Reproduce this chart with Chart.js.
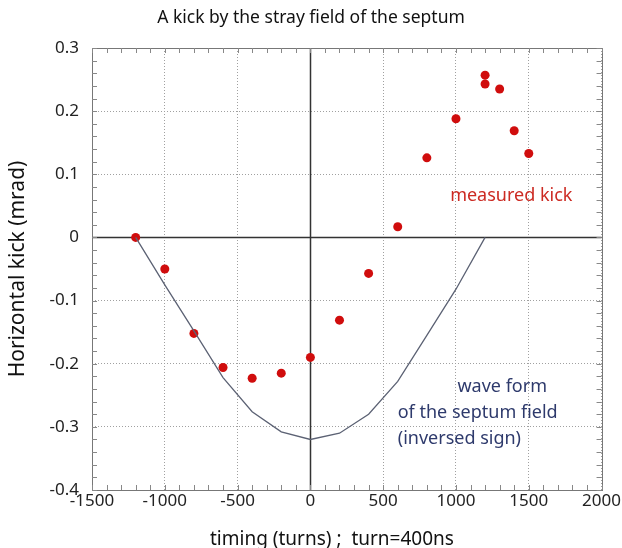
<!DOCTYPE html>
<html>
<head>
<meta charset="utf-8">
<script src="https://cdn.jsdelivr.net/npm/chart.js@4"></script>
<style>
html, body { margin: 0; padding: 0; background: #fff; }
</style>
</head>
<body>
<canvas id="myChart" width="622" height="548"></canvas>
<script>
// measured kick (red dots)
var kickTurns  = [-1200, -1000, -800, -600, -400, -200, 0, 200, 400, 600, 800, 1000, 1200, 1200, 1300, 1400, 1500];
var kickValues = [0, -0.05, -0.152, -0.206, -0.223, -0.215, -0.19, -0.131, -0.057, 0.017, 0.126, 0.188, 0.257, 0.243, 0.235, 0.169, 0.133];

// wave form of the septum field (inversed sign)
var waveTurns  = [-1200, -1000, -800, -600, -400, -200, 0, 200, 400, 600, 800, 1000, 1200];
var waveValues = [0, -0.075, -0.148, -0.222, -0.276, -0.308, -0.32, -0.31, -0.28, -0.228, -0.155, -0.082, 0];

var chartTitle = 'A kick by the stray field of the septum';
// trailing spaces nudge the centred axis title a bit to the left, like the original
var xTitle = 'timing (turns) ;  turn=400ns      ';
var yTitle = 'Horizontal kick (mrad)';

// text notes placed in data units
var notes = [
	{ lines: ['measured kick'], x: 960, y: 0.066, color: '#cc2a22' },
	{ lines: ['wave form'], x: 1010, y: -0.237, color: '#2e3a6c' },
	{ lines: ['of the septum field', '(inversed sign)'], x: 600, y: -0.278, color: '#2e3a6c' }
];

var fontName = '"Noto Sans", "DejaVu Sans", sans-serif';

var extras = {
	id: 'extras',
	beforeDatasetsDraw: function(chart) {
		var ctx = chart.ctx;
		var xs = chart.scales.x, ys = chart.scales.y;
		var a = chart.chartArea;
		ctx.save();
		ctx.strokeStyle = '#333';
		ctx.lineWidth = 1.5;
		ctx.beginPath();
		var x0 = Math.round(xs.getPixelForValue(0)) + 0.5;
		var y0 = Math.round(ys.getPixelForValue(0)) + 0.5;
		ctx.moveTo(x0, a.top); ctx.lineTo(x0, a.bottom);
		ctx.moveTo(a.left, y0); ctx.lineTo(a.right, y0);
		ctx.stroke();
		ctx.restore();
	},
	afterDatasetsDraw: function(chart) {
		var ctx = chart.ctx;
		var xs = chart.scales.x, ys = chart.scales.y;
		var a = chart.chartArea;
		ctx.save();
		// frame
		ctx.strokeStyle = '#777';
		ctx.lineWidth = 1;
		ctx.strokeRect(Math.round(a.left) + 0.5, Math.round(a.top) + 0.5, Math.round(a.right - a.left), Math.round(a.bottom - a.top));
		// minor ticks, inside
		ctx.strokeStyle = '#888';
		ctx.beginPath();
		for (var i = -15; i <= 20; i++) {
			var px = Math.round(xs.getPixelForValue(i * 100)) + 0.5;
			ctx.moveTo(px, a.bottom); ctx.lineTo(px, a.bottom - 5);
			ctx.moveTo(px, a.top); ctx.lineTo(px, a.top + 5);
		}
		for (var j = -20; j <= 15; j++) {
			var py = Math.round(ys.getPixelForValue(j * 0.02)) + 0.5;
			ctx.moveTo(a.left, py); ctx.lineTo(a.left + 5, py);
			ctx.moveTo(a.right, py); ctx.lineTo(a.right - 5, py);
		}
		ctx.stroke();
		// notes
		ctx.font = '18px ' + fontName;
		ctx.textBaseline = 'middle';
		ctx.textAlign = 'left';
		notes.forEach(function(n) {
			ctx.fillStyle = n.color;
			var nx = xs.getPixelForValue(n.x);
			var ny = ys.getPixelForValue(n.y);
			n.lines.forEach(function(t, k) {
				ctx.fillText(t, nx, ny + k * 25.5);
			});
		});
		ctx.restore();
	}
};

var ctx = document.getElementById('myChart').getContext('2d');
var chart = new Chart(ctx, {
	type: 'scatter',
	data: {
		datasets: [{
			label: 'wave form',
			type: 'line',
			data: waveTurns.map(function(t, i) { return { x: t, y: waveValues[i] }; }),
			borderColor: '#5c6274',
			borderWidth: 1.3,
			pointRadius: 0,
			fill: false,
			tension: 0
		}, {
			label: 'measured kick',
			data: kickTurns.map(function(t, i) { return { x: t, y: kickValues[i] }; }),
			backgroundColor: '#d00d0d',
			borderWidth: 0,
			pointRadius: 4.5
		}]
	},
	options: {
		responsive: false,
		animation: false,
		layout: { padding: { left: 0, right: 0, top: 0, bottom: 0 } },
		plugins: {
			legend: { display: false },
			tooltip: { enabled: false },
			title: {
				display: true,
				text: chartTitle,
				color: '#111',
				font: { family: fontName, size: 17.5, weight: 'normal' },
				padding: { top: 8, bottom: 19 }
			}
		},
		scales: {
			x: {
				type: 'linear',
				min: -1500, max: 2000,
				afterFit: function(s) { s.height = 58; },
				ticks: {
					stepSize: 500,
					padding: 1,
					color: '#222',
					font: { family: fontName, size: 17 },
					maxRotation: 0,
					callback: function(v) { return String(v); }
				},
				grid: {
					color: function(c) { return c.tick && c.tick.value === 0 ? 'rgba(0,0,0,0)' : '#a0a0a0'; },
					lineWidth: 1,
					drawTicks: false
				},
				border: { display: false, dash: [1, 2] },
				title: {
					display: true,
					text: xTitle,
					color: '#111',
					font: { family: fontName, size: 19 },
					padding: { top: 0, bottom: -3 }
				}
			},
			y: {
				type: 'linear',
				min: -0.4, max: 0.3,
				afterFit: function(s) { s.width = 92; },
				ticks: {
					stepSize: 0.1,
					padding: 13,
					color: '#222',
					font: { family: fontName, size: 17 },
					callback: function(v) { return String(Math.round(v * 10) / 10); }
				},
				grid: {
					color: function(c) { return c.tick && Math.abs(c.tick.value) < 1e-9 ? 'rgba(0,0,0,0)' : '#a0a0a0'; },
					lineWidth: 1,
					drawTicks: false
				},
				border: { display: false, dash: [1, 2] },
				title: {
					display: true,
					text: yTitle,
					color: '#111',
					font: { family: fontName, size: 21 },
					padding: { top: 5.4, bottom: 0 }
				}
			}
		}
	},
	plugins: [extras]
});
</script>
</body>
</html>
